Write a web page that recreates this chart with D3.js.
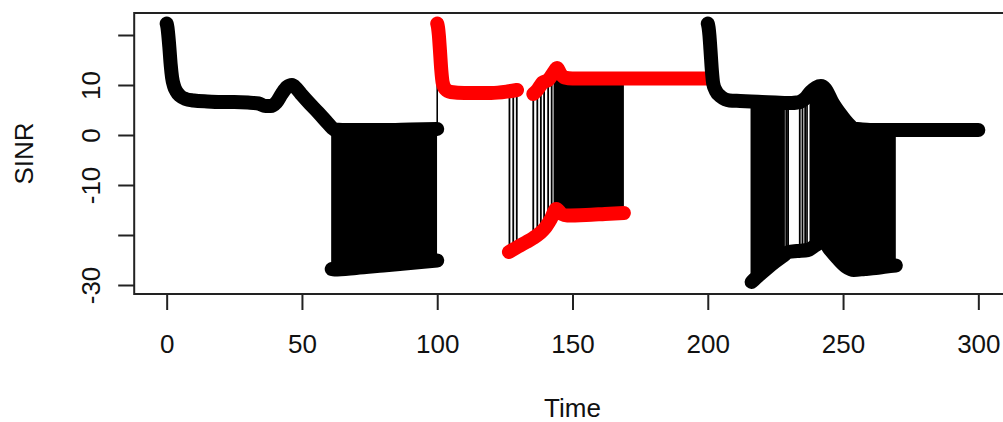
<!DOCTYPE html>
<html>
<head>
<meta charset="utf-8">
<script src="https://cdn.jsdelivr.net/npm/d3@7"></script>
<style>
  body { margin: 0; background: #fff; }
  text { font-family: "Liberation Sans", Arial, Helvetica, sans-serif; }
</style>
</head>
<body>
<script>
// Upper level of SINR in each run (time, dB); null = level not visited
const run1Time = [0, 0.3, 0.6, 1, 1.5, 2, 2.7, 3.5, 5, 7, 10, 15, 20, 25, 30, 34, 36.5, 38.5, 40.5, 42.5, 44.5, 46.3, 48, 50, 53, 56, 59, 61, 62, 65, 70, 80, 90, 100];
const run1Sinr = [22.3, 21.5, 20, 17.5, 14, 11.5, 9.8, 8.8, 7.8, 7.2, 6.9, 6.7, 6.6, 6.6, 6.5, 6.3, 5.8, 5.8, 6.5, 8.2, 9.6, 10, 9.3, 8, 6.2, 4.5, 2.7, 1.5, 1.1, 1, 1, 1, 1.1, 1.2];
const run2Time = [100, 100.3, 100.6, 101, 101.5, 102, 103, 105, 110, 120, 126, 129.5, 132, 135.5, 137, 139, 141, 143, 144.3, 145.5, 147, 150, 160, 170, 180, 190, 200];
const run2Sinr = [22.3, 21.5, 20, 17, 13, 10.5, 9.2, 8.6, 8.4, 8.4, 8.7, 9, null, 8.2, 9, 10.5, 11, 12.5, 13.4, 12.3, 11.5, 11.3, 11.3, 11.3, 11.3, 11.3, 11.3];
const run3Time = [200, 200.3, 200.6, 201, 201.5, 202, 203, 205, 208, 212, 216, 220, 225, 229.5, 231, 233, 234, 236, 238, 240, 241.8, 243.5, 246, 249, 252, 254, 257, 260, 270, 280, 290, 300];
const run3Sinr = [22.3, 21.5, 20, 17, 13, 10.3, 8.8, 7.6, 6.9, 6.8, 6.7, 6.6, 6.5, 6.4, 6.4, 6.5, 6.6, 7.3, 8.6, 9.5, 9.8, 9.2, 6.6, 4.2, 2.2, 1.3, 1.1, 1, 1, 1, 1, 1];

// Lower level visited while the series flips
const run1LowTime = [61, 62, 70, 80, 90, 100];
const run1LowSinr = [-26.8, -26.9, -26.6, -26.1, -25.6, -25.1];
const run2LowTime = [126.5, 130, 133, 135.5, 138, 140, 142, 144, 146, 148, 155, 162, 169];
const run2LowSinr = [-23.4, -22.3, -21.4, -20.6, -19.6, -18.5, -16.8, -14.8, -15.8, -16.1, -16, -15.8, -15.6];
const run3LowTime = [216.2, 219, 222, 225, 228, 229.8, 233, 237, 240, 242.7, 245, 248, 251, 254, 258, 262, 266, 269.5];
const run3LowSinr = [-29.4, -28, -26.6, -25.3, -24.1, -23.4, -23.2, -23, -22, -21.2, -22.8, -24.7, -26.3, -27, -26.8, -26.6, -26.3, -26.1];

// Spans of dense flipping, and single flips
const denseStart = [60.8, 143, 215.8, 236.4, 237.6];
const denseEnd = [100, 169, 228.5, 237.0, 269.5];
const flipTimes = [126.7, 128.1, 129.4, 135.5, 137, 138.3, 139.5, 141, 142.3, 229.0, 229.7, 234.0, 235.0, 236.0];

// Axis ticks
const xTicks = [0, 50, 100, 150, 200, 250, 300];
const yTicks = [-30, -20, -10, 0, 10, 20];
const yLabelled = [-30, -10, 0, 10];

const runColours = ["#000000", "#ff0000", "#000000"];

const zip = (t, v) => t.map((d, i) => ({ t: d, v: v[i] }));
const runs = [
  { up: zip(run1Time, run1Sinr), low: zip(run1LowTime, run1LowSinr) },
  { up: zip(run2Time, run2Sinr), low: zip(run2LowTime, run2LowSinr) },
  { up: zip(run3Time, run3Sinr), low: zip(run3LowTime, run3LowSinr) }
];

const width = 1003;
const height = 422;
const marginTop = 13;
const marginBottom = 128;
const marginLeft = 134.2;
const plotRight = 1010.8;

const x = d3.scaleLinear()
  .domain([-12, 312])
  .range([marginLeft, plotRight]);

const y = d3.scaleLinear()
  .domain([-31.8, 24.4])
  .range([height - marginBottom, marginTop]);

const svg = d3.select("body")
  .append("svg")
  .attr("width", width)
  .attr("height", height)
  .attr("viewBox", [0, 0, width, height]);

// Clip for the black flipping lines
const clip = svg.append("defs").append("clipPath").attr("id", "flips");
clip.selectAll("rect.dense")
  .data(denseStart)
  .join("rect")
  .attr("x", (d, i) => x(d))
  .attr("width", (d, i) => x(denseEnd[i]) - x(d))
  .attr("y", 0)
  .attr("height", height);
clip.selectAll("rect.flip")
  .data(flipTimes)
  .join("rect")
  .attr("class", "flip")
  .attr("x", d => x(d) - 0.9)
  .attr("width", 1.8)
  .attr("y", 0)
  .attr("height", height);

const poly = d3.line().x(d => x(d.t)).y(d => y(d.v));

svg.append("g")
  .attr("clip-path", "url(#flips)")
  .selectAll("path")
  .data(runs)
  .join("path")
  .attr("fill", "#000")
  .attr("d", r => poly(r.up.filter(d => d.v != null).concat(r.low.slice().reverse())) + "Z");

// Thin lines joining the runs
const joins = runs.slice(1).map((r, i) => [runs[i].up[runs[i].up.length - 1], r.up[0]]);
svg.append("g")
  .selectAll("path")
  .data(joins)
  .join("path")
  .attr("fill", "none")
  .attr("stroke", "#000")
  .attr("stroke-width", 1.6)
  .attr("d", poly);

// Bands of overplotted circles
const band = d3.line()
  .defined(d => d.v != null)
  .x(d => x(d.t))
  .y(d => y(d.v))
  .curve(d3.curveMonotoneX);

const bands = svg.append("g")
  .attr("fill", "none")
  .attr("stroke-width", 14)
  .attr("stroke-linecap", "round")
  .attr("stroke-linejoin", "round");

runs.forEach((r, i) => {
  bands.append("path").attr("stroke", runColours[i]).attr("d", band(r.up));
  bands.append("path").attr("stroke", runColours[i]).attr("d", band(r.low));
});

// Box
svg.append("rect")
  .attr("x", marginLeft)
  .attr("y", marginTop)
  .attr("width", plotRight - marginLeft)
  .attr("height", height - marginBottom - marginTop)
  .attr("fill", "none")
  .attr("stroke", "#222")
  .attr("stroke-width", 2);

// X axis
const xAxis = svg.append("g")
  .attr("transform", `translate(0,${height - marginBottom})`)
  .call(d3.axisBottom(x).tickValues(xTicks).tickSize(16).tickSizeOuter(0).tickFormat(d => String(d)));
xAxis.select(".domain").remove();
xAxis.selectAll(".tick line").attr("stroke", "#222").attr("stroke-width", 2);
xAxis.selectAll(".tick text")
  .attr("fill", "#111")
  .attr("y", 59)
  .attr("dy", 0)
  .style("font-size", "26px");

// Y axis
const yAxis = svg.append("g")
  .attr("transform", `translate(${marginLeft},0)`)
  .call(d3.axisLeft(y).tickValues(yTicks).tickSize(16).tickSizeOuter(0)
    .tickFormat(d => yLabelled.includes(d) ? String(d) : ""));
yAxis.select(".domain").remove();
yAxis.selectAll(".tick line").attr("stroke", "#222").attr("stroke-width", 2);
yAxis.selectAll(".tick text")
  .attr("fill", "#111")
  .attr("transform", "rotate(-90)")
  .attr("x", 0)
  .attr("y", -34.5)
  .attr("dy", 0)
  .attr("text-anchor", "middle")
  .style("font-size", "26px");

// Axis titles
svg.append("text")
  .attr("x", (marginLeft + plotRight) / 2)
  .attr("y", 416.5)
  .attr("text-anchor", "middle")
  .attr("fill", "#111")
  .style("font-size", "26px")
  .text("Time");

svg.append("text")
  .attr("transform", `translate(33,${(marginTop + height - marginBottom) / 2}) rotate(-90)`)
  .attr("text-anchor", "middle")
  .attr("fill", "#111")
  .style("font-size", "26px")
  .text("SINR");
</script>
</body>
</html>
